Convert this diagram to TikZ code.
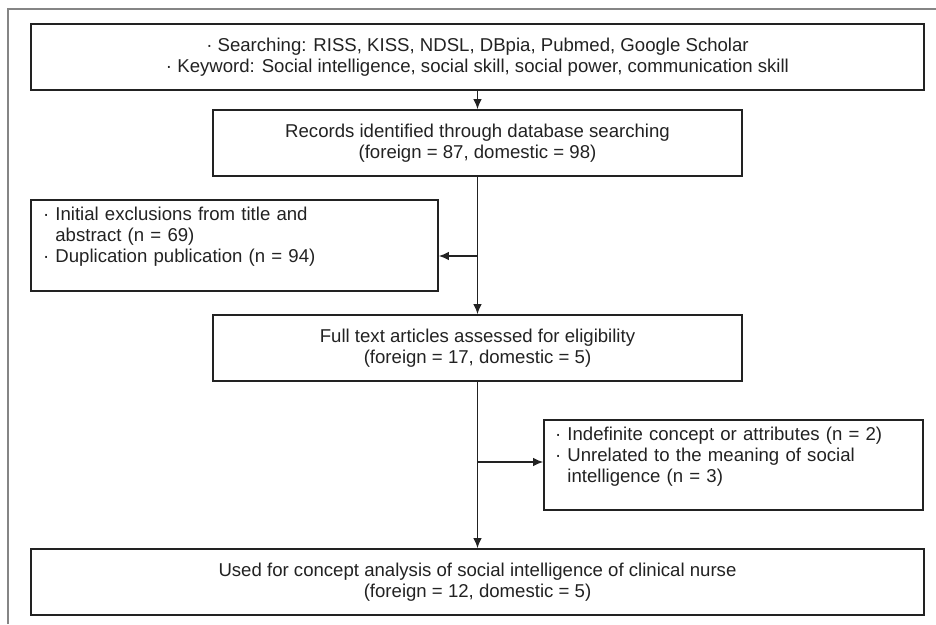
\documentclass[tikz,border=0pt]{standalone}
\usepackage{fontspec}
\setmainfont{Liberation Sans}
\usetikzlibrary{arrows.meta}
\definecolor{ink}{HTML}{222222}
\definecolor{framegray}{HTML}{858585}
\begin{document}
\begin{tikzpicture}[x=1pt,y=-1pt,
  box/.style={draw=ink, line width=1.6pt, text=ink, inner sep=0pt,
    font=\fontsize{18.6}{21}\selectfont, align=center},
  lbox/.style={box, align=left},
  conn/.style={draw=ink, line width=1.5pt},
  arr/.style={conn, -{Latex[length=10pt,width=8.5pt]}}
]
\useasboundingbox (0,0) rectangle (936,624);
% outer partial frame
\draw[framegray, line width=1.8pt] (8,624) -- (8,9) -- (936,9);

\node[box, minimum width=893, minimum height=66] (search) at (477.5,57)
  {· Searching: RISS, KISS, NDSL, DBpia, Pubmed, Google Scholar\\
   · Keyword: Social intelligence, social skill, social power, communication skill};
\node[box, minimum width=529, minimum height=66] (records) at (477.5,143)
  {Records identified through database searching\\(foreign = 87, domestic = 98)};
\node[lbox, minimum width=407, minimum height=91, text width=383] (exclL) at (234.5,245.5)
  {· Initial exclusions from title and\\
   \phantom{· }abstract (n = 69)\\
   · Duplication publication (n = 94)\\[0pt]\mbox{}};
\node[box, minimum width=529, minimum height=66] (full) at (477.5,348)
  {Full text articles assessed for eligibility\\(foreign = 17, domestic = 5)};
\node[lbox, minimum width=379, minimum height=90, text width=357] (exclR) at (733.5,465)
  {· Indefinite concept or attributes (n = 2)\\
   · Unrelated to the meaning of social\\
   \phantom{· }intelligence (n = 3)\\[0pt]\mbox{}};
\node[box, minimum width=893, minimum height=66] (used) at (477.5,582)
  {Used for concept analysis of social intelligence of clinical nurse\\(foreign = 12, domestic = 5)};

\coordinate (j1) at (records.south |- 0,256);
\coordinate (j2) at (full.south |- 0,462);

\draw[arr] (search.south -| records.north) -- (records.north);
\draw[arr] (records.south) -- (full.north);
\draw[arr] (j1) -- (j1 -| exclL.east);
\draw[arr] (full.south) -- (used.north -| full.south);
\draw[arr] (j2) -- (j2 -| exclR.west);
\end{tikzpicture}
\end{document}
